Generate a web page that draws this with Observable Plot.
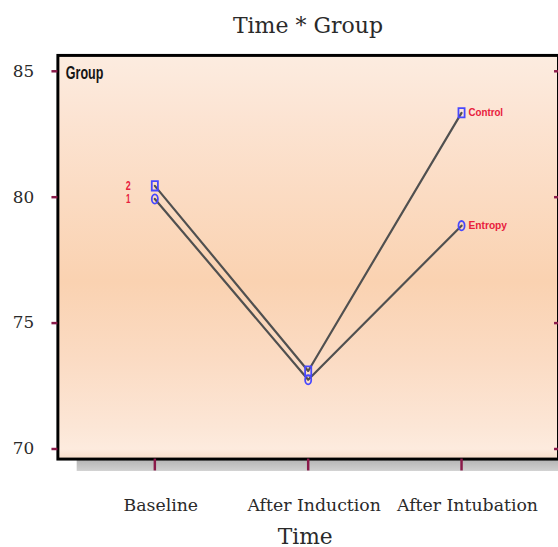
<!DOCTYPE html>
<html><head><meta charset="utf-8">
<script src="https://cdn.jsdelivr.net/npm/d3@7"></script>
<script src="https://cdn.jsdelivr.net/npm/@observablehq/plot@0.6"></script>
<style>
body{margin:0;width:558px;height:547px;overflow:hidden;background:#fff;position:relative}
#title{position:absolute;left:308px;top:15px;transform:translateX(-50%);font:22px/22px "DejaVu Serif",serif;color:#2a2a2a;white-space:nowrap}
#chart{position:absolute;left:0;top:48px}
</style></head>
<body>
<div id="title">Time * Group</div>
<div id="chart"></div>
<script>
const times = ["Baseline", "After Induction", "After Intubation"];
const groups = ["Entropy", "Control"];
const groupCodes = ["1", "2"];
const entropyValues = [79.93, 72.75, 78.87];
const controlValues = [80.45, 73.1, 83.35];
const yTicks = [70, 75, 80, 85];

const seriesValues = [entropyValues, controlValues];
const data = [];
groups.forEach((g, gi) => times.forEach((t, ti) => data.push({group: g, code: groupCodes[gi], time: t, value: seriesValues[gi][ti]})));

// tall (vertically stretched) marker shapes
const tallCircle = {draw(ctx) {
  const rx = 3.1, ry = 4.7, k = 0.5523;
  ctx.moveTo(rx, 0);
  ctx.bezierCurveTo(rx, ry * k, rx * k, ry, 0, ry);
  ctx.bezierCurveTo(-rx * k, ry, -rx, ry * k, -rx, 0);
  ctx.bezierCurveTo(-rx, -ry * k, -rx * k, -ry, 0, -ry);
  ctx.bezierCurveTo(rx * k, -ry, rx, -ry * k, rx, 0);
  ctx.closePath();
}};
const tallSquare = {draw(ctx) {
  const w = 3.1, h = 4.7;
  ctx.moveTo(-w, -h); ctx.lineTo(w, -h); ctx.lineTo(w, h); ctx.lineTo(-w, h); ctx.closePath();
}};

const tickColor = "#8a1a4a";
const red = "#e8203c";
const plot = Plot.plot({
  width: 564, height: 510,
  marginLeft: 58, marginRight: 0, marginTop: 7, marginBottom: 95,
  style: {fontFamily: "'DejaVu Serif', serif", fontSize: "17px", color: "#2a2a2a", background: "transparent", overflow: "visible"},
  x: {type: "point", domain: times, padding: 0.627},
  y: {domain: [69.6, 85.63]},
  symbol: {domain: groups, range: [tallCircle, tallSquare]},
  marks: [
    Plot.frame({fill: "url(#shadowGrad)", dx: 19, dy: 12}),
    Plot.frame({fill: "url(#bgGrad)", stroke: "#000", strokeWidth: 3}),
    Plot.axisY({ticks: yTicks, tickSize: 6, tickPadding: 18, stroke: tickColor, strokeWidth: 2.5, label: null, fontSize: 17}),
    Plot.axisY({ticks: yTicks, anchor: "right", tickSize: -5, stroke: tickColor, strokeWidth: 2.5, tickFormat: () => "", label: null}),
    Plot.axisX({tickSize: 12, tickPadding: 28, stroke: tickColor, strokeWidth: 2.5, label: null, fontSize: 17.5, text: null}),
    Plot.axisX({tickSize: 12, tickPadding: 28, dx: 6, label: null, fontSize: 17.5, stroke: "none"}),
    Plot.text(["Time"], {frameAnchor: "bottom", dx: -3, dy: 86, lineAnchor: "bottom", fontSize: 22}),
    Plot.text(["Group"], {frameAnchor: "top-left", dx: 8, dy: 11.5, lineAnchor: "top", textAnchor: "start", fontSize: 18, fontWeight: "bold", fontFamily: "'Liberation Sans',Arial,sans-serif", fill: "#151515"}),
    Plot.line(data, {x: "time", y: "value", z: "group", stroke: "#505050", strokeWidth: 2.2}),
    Plot.dot(data, {x: "time", y: "value", symbol: "group", stroke: "#4848ff", strokeWidth: 1.8, fill: "none"}),
    Plot.text(data.filter(d => d.time === times[2]), {x: "time", y: "value", text: "group", dx: 7, textAnchor: "start", fill: red, fontWeight: "bold", fontSize: 11.5, fontFamily: "'Liberation Sans',sans-serif"}),
    Plot.text(data.filter(d => d.time === times[0]), {x: "time", y: "value", text: "code", dx: -27, fill: red, fontWeight: "bold", fontSize: 12, fontFamily: "'Liberation Sans',sans-serif"})
  ]
});

const svg = d3.select(plot);
const defs = svg.insert("defs", ":first-child");
const bg = defs.append("linearGradient").attr("id", "bgGrad").attr("x1", 0).attr("y1", 0).attr("x2", 0).attr("y2", 1);
[[0, "#fcece0"], [0.15, "#fce4d3"], [0.35, "#fbdbc2"], [0.56, "#fad2b1"], [0.75, "#fbdbc3"], [0.92, "#fce6d6"], [0.975, "#fdebde"], [1, "#f6dcc8"]]
  .forEach(([o, c]) => bg.append("stop").attr("offset", o).attr("stop-color", c));
const sh = defs.append("linearGradient").attr("id", "shadowGrad").attr("x1", 0).attr("y1", 0).attr("x2", 0).attr("y2", 1);
[[0, "#b2b2b2"], [0.97, "#b2b2b2"], [1, "#d0d0d0"]]
  .forEach(([o, c]) => sh.append("stop").attr("offset", o).attr("stop-color", c));

// condensed look of the in-plot labels
const squeeze = {"Group": 38, "Control": 35, "Entropy": 39, "1": 4.5, "2": 5};
svg.selectAll("text").each(function() {
  const t = this.textContent;
  if (squeeze[t] !== undefined && this.closest("g[aria-label='text']")) {
    d3.select(this).attr("textLength", squeeze[t]).attr("lengthAdjust", "spacingAndGlyphs");
  }
});

document.getElementById("chart").appendChild(plot);
</script>
</body></html>
